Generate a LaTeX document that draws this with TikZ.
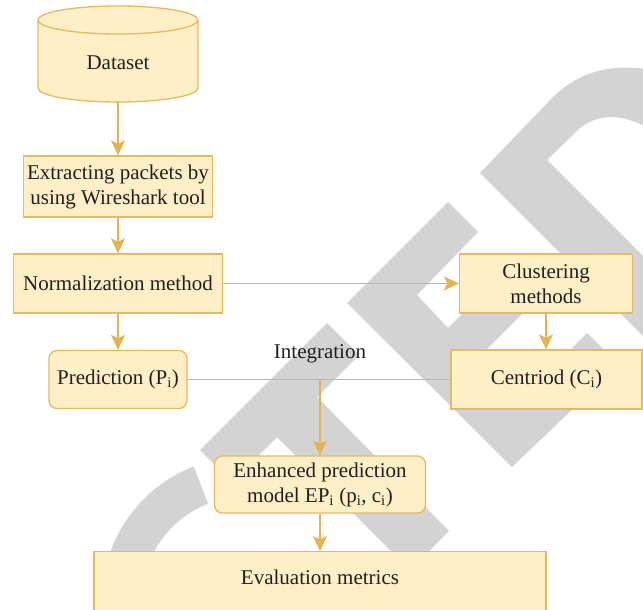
\documentclass[tikz,border=0pt]{standalone}
\usepackage{fontspec}
\setmainfont{Liberation Serif}
\usetikzlibrary{arrows.meta,calc}
\definecolor{boxfill}{RGB}{254,239,199}
\definecolor{boxline}{RGB}{230,187,92}
\definecolor{arrowc}{RGB}{227,180,80}
\definecolor{wmgray}{RGB}{211,211,211}
\definecolor{txt}{RGB}{35,31,32}
\begin{document}
\begin{tikzpicture}[x=1pt,y=-1pt,
  every node/.style={font=\fontsize{21}{25}\selectfont, text=txt},
  box/.style={draw=boxline, fill=boxfill, line width=1.3pt, inner sep=0pt, align=center},
  rbox/.style={box, rounded corners=8pt},
  conn/.style={draw=arrowc, line width=1.3pt},
  arr/.style={conn, -{Stealth[length=15pt,width=14pt,inset=3.5pt]}},
  wm/.style={fill=wmgray}]
\clip (0,0) rectangle (643,610);
% watermark (background)
\fill[wm] (480,173) -- (720,413) -- (767,380) -- (547,160) -- cycle;
\fill[wm] (480,173) -- (553,97) .. controls (578,73) and (605,66) .. (635,68) -- (720,72)
  -- (720,180) -- (660,135) .. controls (625,112) and (598,112) .. (578,130) -- (545,162) -- cycle;
\fill[wm] (448,202) -- (347,303) -- (512,467) -- (619,365) -- (587,333) -- (521,399)
  -- (479,357) -- (524,312) -- (494,282) -- (448,328) -- (417,295) -- (478,232) -- cycle;
\fill[wm] (200,450) -- (327,323) -- (359,355) -- (317,397) -- (449,531) -- (410,570)
  -- (277,437) -- (232,482) -- cycle;
\fill[wm] ($(245,600)+(249:143)$) arc[start angle=249, end angle=150, radius=143]
  -- ($(245,600)+(150:103)$) arc[start angle=150, end angle=249, radius=103] -- cycle;
% cylinder
\fill[boxfill] (38,20) -- (38,88) arc[start angle=180,end angle=0,x radius=80,y radius=14]
  -- (198,20) arc[start angle=0,end angle=-180,x radius=80,y radius=14] -- cycle;
\draw[boxline, line width=1.3pt] (38,20) -- (38,88) arc[start angle=180,end angle=0,x radius=80,y radius=14]
  -- (198,20) arc[start angle=0,end angle=-180,x radius=80,y radius=14] -- cycle;
\draw[boxline, line width=1.3pt] (38,20) arc[start angle=180,end angle=0,x radius=80,y radius=14];
\node[inner sep=0pt, minimum width=160pt, minimum height=78pt] (dataset) at (118,63) {Dataset};
% boxes
\node[box, minimum width=189pt, minimum height=61pt] (extract) at (118,186.5) {Extracting packets by\\using Wireshark tool};
\node[box, minimum width=209pt, minimum height=59pt] (norm) at (118,283.5) {Normalization method};
\node[rbox, minimum width=138pt, minimum height=58pt] (pred) at (118,379.5) {Prediction (P\textsubscript{i})};
\node[box, minimum width=173pt, minimum height=59pt] (clust) at (546,283.5) {Clustering\\methods};
\node[box, minimum width=191pt, minimum height=59pt] (cent) at (546.5,379.5) {Centriod (C\textsubscript{i})};
\node[rbox, minimum width=211pt, minimum height=57pt] (enh) at (320,484.5) {Enhanced prediction\\model EP\textsubscript{i} (p\textsubscript{i}, c\textsubscript{i})};
\node[box, anchor=north, minimum width=452pt, text height=33pt, text depth=45pt] (eval) at (320,551) {Evaluation metrics};
\node[inner sep=0pt] (intlabel) at (320,354) {Integration};
% connectors
\draw[arr] (dataset.south) -- (dataset.south |- extract.north);
\draw[arr] (extract.south) -- (extract.south |- norm.north);
\draw[arr] (norm.east) -- (norm.east -| clust.west);
\draw[arr] (norm.south) -- (norm.south |- pred.north);
\draw[arr] (clust.south) -- (clust.south |- cent.north);
\draw[conn] (pred.east) -- (pred.east -| cent.west);
\coordinate (j) at (pred.east -| enh.north);
\draw[arr] (j) -- (enh.north);
\draw[arr] (enh.south) -- (enh.south |- eval.north);
\end{tikzpicture}
\end{document}
